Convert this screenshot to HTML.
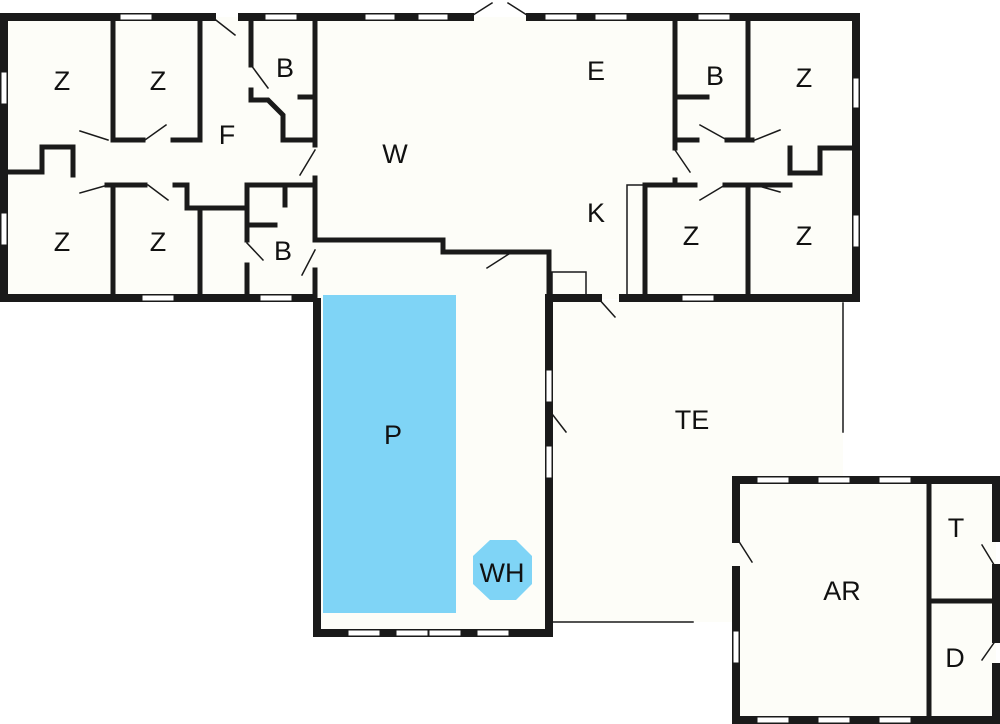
<!DOCTYPE html>
<html><head><meta charset="utf-8"><style>
html,body{margin:0;padding:0;background:#fff;}
svg{display:block;}
text{font-family:"Liberation Sans",sans-serif;font-size:27px;fill:#111;text-anchor:middle;dominant-baseline:middle;}
</style></head><body>
<svg width="1000" height="724" viewBox="0 0 1000 724" xmlns="http://www.w3.org/2000/svg">
<rect width="1000" height="724" fill="#fff"/>
<rect x="4" y="17" width="852" height="282" fill="#fdfdf8"/>
<rect x="317" y="240" width="233" height="395" fill="#fdfdf8"/>
<polygon points="553,300 843,300 843,622 553,622" fill="#fdfdf8"/>
<rect x="736" y="480" width="260" height="240" fill="#fdfdf8"/>
<rect x="323" y="295" width="133" height="318" fill="#7fd4f6"/>
<polygon points="490,540 516,540 532,556 532,584 516,600 490,600 473,584 473,556" fill="#7fd4f6"/>

<g fill="none" stroke="#1a1a1a" stroke-linecap="square">
<g stroke-width="8">
<path d="M4,17 H212 M242,17 H470 M530,17 H856 V298 H623 M598,298 H553 M313,298 H4 V17"/>
<path d="M317,302 V633 H549 V298"/>
</g>
<g stroke-width="5">
<path d="M113,17 V140 H143 M173,140 H200 V17"/>
<path d="M8,172 H42 V147 H73 V175"/>
<path d="M107,185 H145 M175,185 H187 V208 H247"/>
<path d="M113,185 V298 M200,208 V298"/>
<path d="M247,185 V240 M247,265 V298 M247,185 H315"/>
<path d="M285,187 V205 M250,225 H275"/>
<path d="M251,17 V65 M251,90 V100 H268 L283,115 V140 H315 M300,97 H315"/>
<path d="M315,17 V145 M315,178 V240 M315,270 V298"/>
<path d="M317,240 H443 V252 H549 V298"/>
<path d="M675,17 V148 M675,180 V185 M675,97 H707 M675,140 H697 M727,140 H752 M748,17 V140"/>
<path d="M790,148 V173 H820 V148 H856"/>
<path d="M645,185 H695 M725,185 H790 M645,185 V298 M748,185 V298"/>
<path d="M549,252 V298"/>
<path d="M929,480 V720 M929,601 H996"/>
</g>
<g stroke-width="8">
<path d="M736,480 H996 V538 M996,568 V639 M996,667 V720 H736 V570 M736,539 V480"/>
</g>
<g stroke-width="1.5">
<path d="M627,298 V185 H645 M552,298 V272 H586 V298"/>
<path d="M843,303 V432 M553,622 H693"/>
<path d="M470,17 L492,3 M530,17 L508,3"/>
<path d="M212,17 L235,35 M251,65 L268,88 M315,150 L300,175 M80,131 L108,140 M80,193 L108,185 M145,140 L166,125 M148,185 L168,200 M247,243 L263,260 M315,250 L302,275 M675,150 L690,172 M700,125 L727,140 M755,140 L780,130 M755,185 L780,192 M700,200 L725,185 M598,298 L615,317 M487,268 L512,252 M549,410 L566,432 M738,540 L752,562 M996,568 L982,545 M996,640 L982,660"/>
</g>
</g>
<g fill="#fff" stroke="#1a1a1a" stroke-width="1">
<rect x="120" y="14" width="32" height="6"/><rect x="265" y="14" width="32" height="6"/>
<rect x="365" y="14" width="30" height="6"/><rect x="418" y="14" width="30" height="6"/>
<rect x="545" y="14" width="32" height="6"/><rect x="595" y="14" width="32" height="6"/><rect x="698" y="14" width="32" height="6"/>
<rect x="1" y="72" width="6" height="32"/><rect x="1" y="213" width="6" height="32"/>
<rect x="853" y="78" width="6" height="30"/><rect x="853" y="215" width="6" height="32"/>
<rect x="142" y="295" width="32" height="6"/><rect x="260" y="295" width="32" height="6"/><rect x="682" y="295" width="32" height="6"/>
<rect x="348" y="630" width="32" height="6"/><rect x="396" y="630" width="32" height="6"/><rect x="429" y="630" width="32" height="6"/><rect x="477" y="630" width="32" height="6"/>
<rect x="546" y="370" width="6" height="32"/><rect x="546" y="446" width="6" height="32"/>
<rect x="757" y="477" width="32" height="6"/><rect x="818" y="477" width="32" height="6"/><rect x="879" y="477" width="32" height="6"/>
<rect x="757" y="717" width="32" height="6"/><rect x="818" y="717" width="32" height="6"/><rect x="879" y="717" width="32" height="6"/>
<rect x="733" y="631" width="6" height="32"/>
</g>
<g>
<text x="62" y="83">Z</text><text x="158" y="83">Z</text><text x="285" y="70">B</text>
<text x="227" y="137">F</text><text x="395" y="156">W</text><text x="596" y="73">E</text>
<text x="715" y="78">B</text><text x="804" y="80">Z</text>
<text x="62" y="244">Z</text><text x="158" y="244">Z</text><text x="283" y="253">B</text>
<text x="596" y="215">K</text><text x="691" y="238">Z</text><text x="804" y="238">Z</text>
<text x="393" y="437">P</text><text x="502" y="575">WH</text><text x="692" y="422">TE</text>
<text x="842" y="593">AR</text><text x="956" y="530">T</text><text x="955" y="660">D</text>
</g>
</svg>
</body></html>
